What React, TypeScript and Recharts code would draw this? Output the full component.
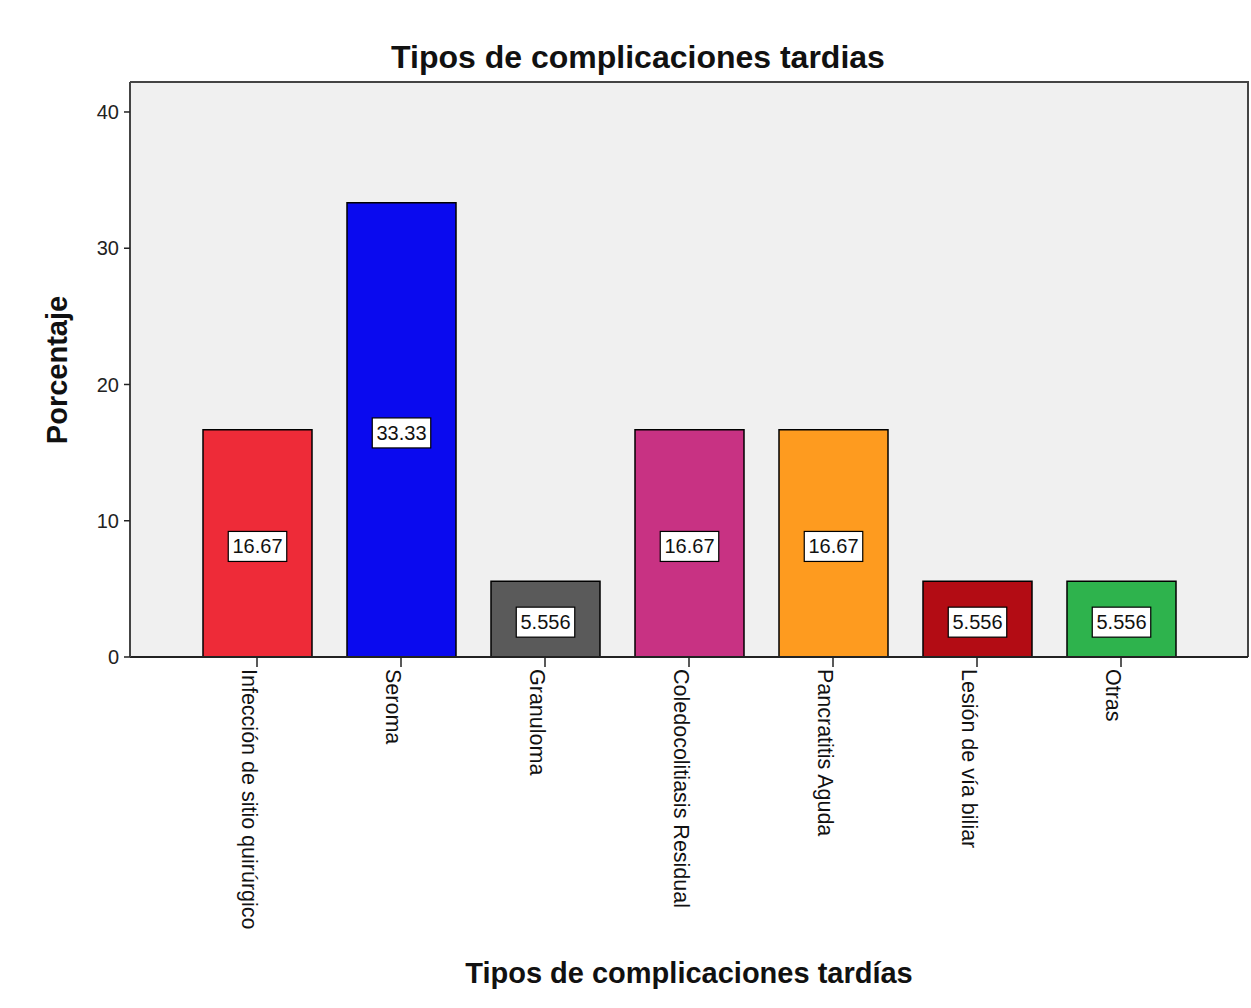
import React from 'react';
import { BarChart, Bar, XAxis, YAxis, CartesianGrid, Cell, LabelList, Label, usePlotArea } from 'recharts';

const CATEGORIES = [
  'Infección de sitio quirúrgico',
  'Seroma',
  'Granuloma',
  'Coledocolitiasis Residual',
  'Pancratitis Aguda',
  'Lesión de vía biliar',
  'Otras',
];
const PERCENTAGES = [16.67, 33.33, 5.556, 16.67, 16.67, 5.556, 5.556];
const BAR_COLORS = ['#ee2b38', '#0a0aef', '#5a5a5a', '#c83283', '#fe9b1f', '#b30c14', '#2eb34d'];
const Y_TICKS = [0, 10, 20, 30, 40];

const data = CATEGORIES.map((name, i) => ({ name, value: PERCENTAGES[i] }));

const FONT = '"Liberation Sans", Arial, sans-serif';

const CategoryTick = (props: any) => {
  const { x, y, payload } = props;
  return (
    <text
      x={x}
      y={y}
      dy={15}
      transform={`rotate(90, ${x}, ${y})`}
      textAnchor="start"
      fontSize={21.5}
      fontFamily={FONT}
      fill="#111"
    >
      {payload.value}
    </text>
  );
};

// boxed value label in the middle of each bar
const ValueBox = (props: any) => {
  const { x, y, width, height, value } = props;
  const cx = x + width / 2;
  const cy = y + height / 2 + 3;
  const txt = String(value);
  const w = txt.length * 10.5 + 6;
  return (
    <g>
      <rect x={cx - w / 2} y={cy - 15} width={w} height={30} fill="#fff" stroke="#000" strokeWidth={1.2} />
      <text x={cx} y={cy} textAnchor="middle" dominantBaseline="central" fontSize={20} fontFamily={FONT} fill="#111">
        {txt}
      </text>
    </g>
  );
};

// top and right edges of the plot box
const PlotFrame = () => {
  const area = usePlotArea();
  if (!area) return null;
  const { x, y, width, height } = area;
  return (
    <path
      d={`M${x},${y} H${x + width} V${y + height}`}
      fill="none"
      stroke="#444"
      strokeWidth={2}
    />
  );
};

export default function App() {
  return (
    <div style={{ position: 'absolute', left: 0, top: 0, width: 1251, height: 1008, background: '#fff', fontFamily: FONT }}>
      <div
        style={{
          position: 'absolute',
          left: 638,
          top: 57,
          transform: 'translate(-50%, -50%)',
          fontSize: 32,
          fontWeight: 'bold',
          whiteSpace: 'nowrap',
          color: '#111',
        }}
      >
        Tipos de complicaciones tardias
      </div>
      <div
        style={{
          position: 'absolute',
          left: 57,
          top: 370,
          transform: 'translate(-50%, -50%) rotate(-90deg)',
          fontSize: 29,
          fontWeight: 'bold',
          whiteSpace: 'nowrap',
          color: '#111',
        }}
      >
        Porcentaje
      </div>
      <BarChart width={1251} height={1008} data={data} margin={{ top: 82, right: 3, left: 0, bottom: 0 }}>
        <CartesianGrid fill="#f0f0f0" horizontal={false} vertical={false} />
        <XAxis
          dataKey="name"
          height={351}
          interval={0}
          padding={{ left: 55, right: 55 }}
          tick={<CategoryTick />}
          tickSize={10}
          tickMargin={2}
          axisLine={{ stroke: '#222', strokeWidth: 2 }}
          tickLine={{ stroke: '#222', strokeWidth: 1.5 }}
        >
          <Label
            value="Tipos de complicaciones tardías"
            position="insideBottom"
            offset={25}
            style={{ fontSize: 29, fontWeight: 'bold', fill: '#111', fontFamily: FONT }}
          />
        </XAxis>
        <YAxis
          width={130}
          domain={[0, 42.2]}
          ticks={Y_TICKS}
          tickSize={6}
          tickMargin={5}
          tick={{ fontSize: 20, fill: '#222', fontFamily: FONT }}
          axisLine={{ stroke: '#444', strokeWidth: 2 }}
          tickLine={{ stroke: '#222', strokeWidth: 1.5 }}
        />
        <Bar dataKey="value" barSize={109} stroke="#000" strokeWidth={1.5} isAnimationActive={false}>
          {data.map((d, i) => (
            <Cell key={d.name} fill={BAR_COLORS[i]} />
          ))}
          <LabelList dataKey="value" content={<ValueBox />} />
        </Bar>
        <PlotFrame />
      </BarChart>
    </div>
  );
}
